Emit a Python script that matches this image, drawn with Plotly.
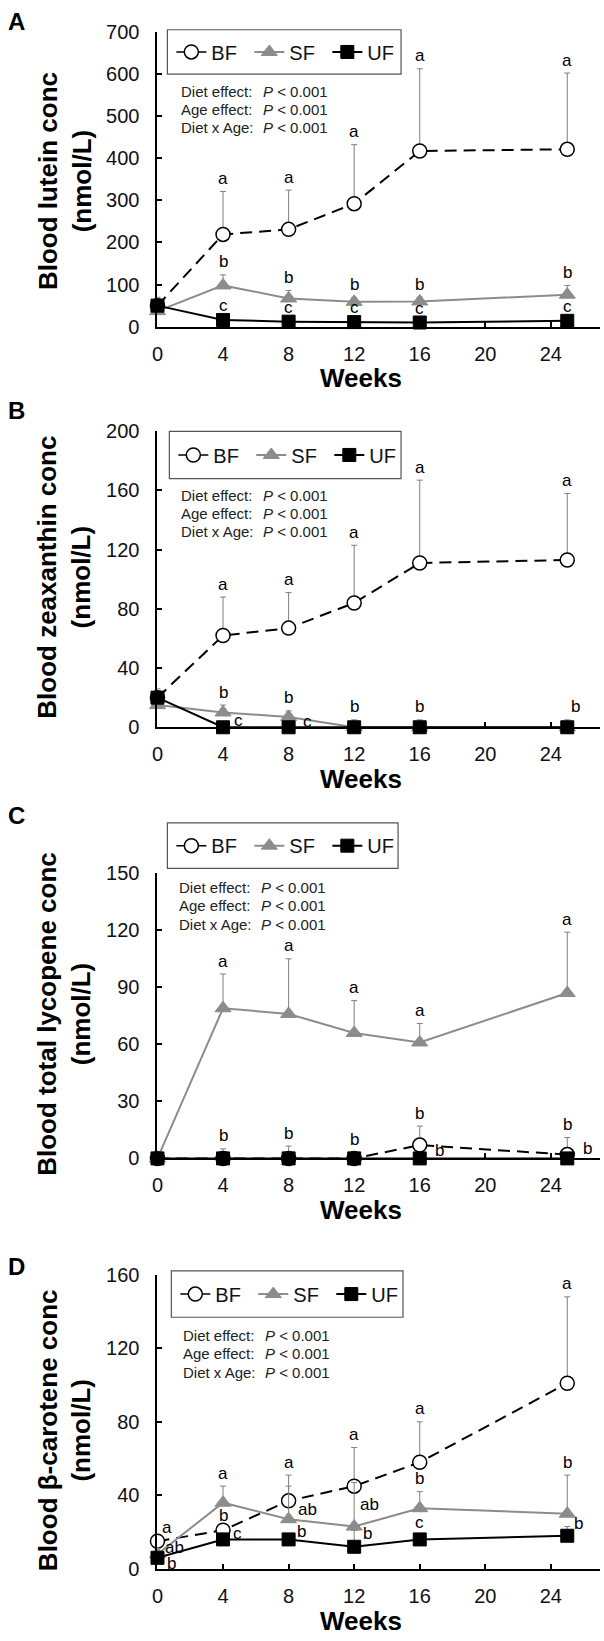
import plotly.graph_objects as go

# ---------------- data ----------------
WEEKS = [0, 4, 8, 12, 16, 25]
SERIES = ["BF", "SF", "UF"]
X_TICKS = [0, 4, 8, 12, 16, 20, 24]

# Panel A: lutein (nmol/L)
LUTEIN_BF = [50, 219, 231, 292, 417, 421]
LUTEIN_BF_SD = [20, 102, 93, 140, 195, 181]
LUTEIN_SF = [37, 98, 67, 59, 60, 76]
LUTEIN_SF_SD = [8, 25, 19, 10, 10, 22]
LUTEIN_UF = [50, 16, 12, 11, 10, 14]
LUTEIN_UF_SD = [5, 4, 3, 3, 3, 4]
LUTEIN_BF_LET = ["", "a", "a", "a", "a", "a"]
LUTEIN_SF_LET = ["", "b", "b", "b", "b", "b"]
LUTEIN_UF_LET = ["", "c", "c", "c", "c", "c"]

# Panel B: zeaxanthin
ZEA_BF = [20, 62, 67, 84, 111, 113]
ZEA_BF_SD = [6, 26, 24, 39, 56, 45]
ZEA_SF = [15, 10, 7, 0, 0, 0]
ZEA_SF_SD = [3, 5, 4, 5, 5, 5]
ZEA_UF = [20, 0, 0, 0, 0, 0]
ZEA_UF_SD = [0, 0, 0, 0, 0, 0]
ZEA_BF_LET = ["", "a", "a", "a", "a", "a"]
ZEA_SF_LET = ["", "b", "b", "b", "b", "b"]
ZEA_UF_LET = ["", "c", "c", "", "", ""]

# Panel C: total lycopene
LYC_BF = [0, 0, 0, 0, 7, 2]
LYC_BF_SD = [0, 5, 6.5, 3, 10, 9]
LYC_SF = [0, 79, 76, 66, 61, 87]
LYC_SF_SD = [0, 18, 29, 17, 10, 32]
LYC_UF = [0, 0, 0, 0, 0, 0]
LYC_UF_SD = [0, 0, 0, 0, 0, 0]
LYC_BF_LET = ["", "b", "b", "b", "b", "b"]
LYC_SF_LET = ["", "a", "a", "a", "a", "a"]
LYC_UF_LET = ["", "", "", "", "b", "b"]

# Panel D: beta-carotene
BCAR_BF = [15, 21, 37, 45, 58, 101]
BCAR_BF_SD = [2, 1, 14, 21, 22, 47]
BCAR_SF = [8, 36, 27, 23, 33, 30]
BCAR_SF_SD = [3, 9, 18, 24, 9, 21]
BCAR_UF = [6, 16, 16, 12, 16, 18]
BCAR_UF_SD = [1, 2, 2, 9, 2, 5]
BCAR_BF_LET = ["a", "b", "a", "a", "a", "a"]
BCAR_SF_LET = ["ab", "a", "ab", "ab", "b", "b"]
BCAR_UF_LET = ["b", "c", "b", "b", "c", "b"]

Y_TITLES = ["Blood lutein conc", "Blood zeaxanthin conc",
            "Blood total lycopene conc", "Blood β-carotene conc"]
PANEL_LETTERS = ["A", "B", "C", "D"]
STAT_LABELS = ["Diet effect:", "Age effect:", "Diet x Age:"]
STAT_VALUES = ["<i>P</i> &lt; 0.001"] * 3

PANEL_DATA = [
    ([LUTEIN_BF, LUTEIN_SF, LUTEIN_UF], [LUTEIN_BF_SD, LUTEIN_SF_SD, LUTEIN_UF_SD],
     [LUTEIN_BF_LET, LUTEIN_SF_LET, LUTEIN_UF_LET]),
    ([ZEA_BF, ZEA_SF, ZEA_UF], [ZEA_BF_SD, ZEA_SF_SD, ZEA_UF_SD],
     [ZEA_BF_LET, ZEA_SF_LET, ZEA_UF_LET]),
    ([LYC_BF, LYC_SF, LYC_UF], [LYC_BF_SD, LYC_SF_SD, LYC_UF_SD],
     [LYC_BF_LET, LYC_SF_LET, LYC_UF_LET]),
    ([BCAR_BF, BCAR_SF, BCAR_UF], [BCAR_BF_SD, BCAR_SF_SD, BCAR_UF_SD],
     [BCAR_BF_LET, BCAR_SF_LET, BCAR_UF_LET]),
]

# ---------------- layout / style ----------------
W, H = 604, 1641
X0, X1 = 153, 600
FONT = "Liberation Sans, Arial, sans-serif"
GREY = "#8c8c8c"
ERRC = "#7f7f7f"

PANELS = [
    dict(top=21, bottom=320, ymax=700, dtick=100, letter_y=11,
         box=(163, 19, 399, 64), ann_x=175, ann_y=[82, 100, 118], title_c=172, weeks_y=372),
    dict(top=426, bottom=726, ymax=200, dtick=40, letter_y=405,
         box=(165, 426, 399, 474), ann_x=175, ann_y=[491, 509, 528], title_c=574, weeks_y=778),
    dict(top=874, bottom=1163, ymax=150, dtick=30, letter_y=815,
         box=(163, 823, 396, 869), ann_x=173, ann_y=[888, 907, 926], title_c=1016, weeks_y=1215),
    dict(top=1281, bottom=1579, ymax=160, dtick=40, letter_y=1273,
         box=(167, 1277, 401, 1324), ann_x=177, ann_y=[1342, 1361, 1380], title_c=1438,
         weeks_y=1632),
]

# letter placement: default = centred above the error-bar top
# overrides: (panel, series, index) -> (mode, dx px, dy px)
LETTER_PLACE = {
    (1, 1, 5): ("top", 8, 13),
    (1, 2, 1): ("val", 15, 7), (1, 2, 2): ("val", 19, 6),
    (2, 2, 4): ("val", 20, 8), (2, 2, 5): ("val", 20, 10),
    (3, 0, 0): ("val", 10, 14), (3, 1, 0): ("val", 17, 7), (3, 2, 0): ("val", 14, -6),
    (3, 2, 1): ("val", 14, 6),
    (3, 1, 2): ("val", 19, 10), (3, 2, 2): ("val", 13, 8),
    (3, 1, 3): ("val", 15, 22), (3, 2, 3): ("val", 13, 13),
    (3, 2, 5): ("val", 11, 12),
}


def fx(p):
    return p / W


def fy(p):
    return 1 - p / H


STYLE = {
    "BF": dict(line=dict(color="black", width=2, dash="12px,7px"),
               marker=dict(symbol="circle", size=14, color="white",
                           line=dict(color="black", width=1.5))),
    "SF": dict(line=dict(color=GREY, width=2),
               marker=dict(symbol="triangle-up", size=14, color=GREY,
                           line=dict(color=GREY, width=1))),
    "UF": dict(line=dict(color="black", width=2),
               marker=dict(symbol="square", size=13, color="black",
                           line=dict(color="black", width=1))),
}

fig = go.Figure()
annotations = []
shapes = []
layout_extra = {}

for i, (p, (vals, sds, lets)) in enumerate(zip(PANELS, PANEL_DATA)):
    n = i + 1
    xa = "x" if n == 1 else f"x{n}"
    ya = "y" if n == 1 else f"y{n}"
    lg = "legend" if n == 1 else f"legend{n}"

    # legend-only BF entry with a solid line (as in the original key)
    fig.add_trace(go.Scatter(
        x=[None], y=[None], name="BF", mode="lines+markers", xaxis=xa, yaxis=ya,
        line=dict(color="black", width=1.5), marker=STYLE["BF"]["marker"],
        legend=lg, showlegend=True, legendrank=1))

    for s, name in enumerate(SERIES):
        st = STYLE[name]
        fig.add_trace(go.Scatter(
            x=WEEKS, y=vals[s], name=name, mode="lines+markers",
            xaxis=xa, yaxis=ya, line=st["line"], marker=st["marker"],
            error_y=dict(type="data", symmetric=False, array=sds[s],
                         arrayminus=[0] * len(sds[s]), color=ERRC,
                         thickness=1, width=3),
            cliponaxis=False, legend=lg, showlegend=(name != "BF"),
            legendrank=s + 1))

        for k, letter in enumerate(lets[s]):
            if not letter:
                continue
            mode, dx, dy = LETTER_PLACE.get((i, s, k), ("top", 0, 13))
            yv = vals[s][k] + (sds[s][k] if mode == "top" else 0)
            annotations.append(dict(
                x=WEEKS[k], y=yv, xref=xa, yref=ya, text=letter, showarrow=False,
                xanchor="center", yanchor="middle", xshift=dx, yshift=dy,
                font=dict(size=17, family=FONT, color="black")))

    axis_common = dict(showline=True, linecolor="black", linewidth=2, ticks="inside",
                       ticklen=5, tickwidth=1.5, tickcolor="black", showgrid=False,
                       zeroline=False, tickfont=dict(size=20, family=FONT, color="#111"))
    layout_extra["xaxis" if n == 1 else f"xaxis{n}"] = dict(
        domain=[fx(X0), fx(X1)], range=[0, 27], tickmode="array", tickvals=X_TICKS,
        anchor=ya, ticklabelstandoff=8, **axis_common)
    layout_extra["yaxis" if n == 1 else f"yaxis{n}"] = dict(
        domain=[fy(p["bottom"]), fy(p["top"])], range=[0, p["ymax"]], dtick=p["dtick"],
        tick0=0, anchor=xa, ticklabelstandoff=12, **axis_common)

    bx0, by0, bx1, by1 = p["box"]
    shapes.append(dict(type="rect", xref="paper", yref="paper",
                       x0=fx(bx0), x1=fx(bx1), y0=fy(by1), y1=fy(by0),
                       line=dict(color="#555555", width=1.2), fillcolor="white",
                       layer="below"))
    layout_extra[lg] = dict(
        x=fx(bx0 + 4), y=fy((by0 + by1) / 2), xanchor="left", yanchor="middle",
        orientation="h", borderwidth=0, bgcolor="rgba(0,0,0,0)",
        font=dict(size=20, family=FONT, color="#111"), itemwidth=30,
        entrywidth=33, entrywidthmode="pixels", traceorder="normal")

    # panel letter
    annotations.append(dict(x=0, y=fy(p["letter_y"]), xref="paper", yref="paper",
                            text=f"<b>{PANEL_LETTERS[i]}</b>", showarrow=False,
                            xanchor="left", yanchor="middle",
                            font=dict(size=24, family=FONT, color="black")))
    # y-axis title
    annotations.append(dict(x=fx(59), y=fy(p["title_c"]), xref="paper", yref="paper",
                            text=f"<b>{Y_TITLES[i]}<br>(nmol/L)</b>", showarrow=False,
                            textangle=-90, xanchor="center", yanchor="middle",
                            font=dict(size=26, family=FONT, color="black")))
    # x-axis title
    annotations.append(dict(x=fx(359), y=fy(p["weeks_y"]), xref="paper", yref="paper",
                            text="<b>Weeks</b>", showarrow=False,
                            xanchor="center", yanchor="middle",
                            font=dict(size=26, family=FONT, color="black")))
    # statistics text
    for j in range(3):
        annotations.append(dict(x=fx(p["ann_x"]), y=fy(p["ann_y"][j]), xref="paper",
                                yref="paper", text=STAT_LABELS[j], showarrow=False,
                                xanchor="left", yanchor="middle",
                                font=dict(size=15, family=FONT, color="#222")))
        annotations.append(dict(x=fx(p["ann_x"] + 83), y=fy(p["ann_y"][j]), xref="paper",
                                yref="paper", text=STAT_VALUES[j], showarrow=False,
                                xanchor="left", yanchor="middle",
                                font=dict(size=15, family=FONT, color="#222")))

fig.update_layout(
    width=W, height=H, margin=dict(l=0, r=0, t=0, b=0),
    paper_bgcolor="white", plot_bgcolor="white",
    font=dict(family=FONT, color="black"),
    annotations=annotations, shapes=shapes, hovermode=False,
    **layout_extra,
)

POST = (
    "document.body.style.margin='0';document.body.style.padding='0';"
    "document.body.style.overflow='hidden';"
    "var g=document.getElementById('{plot_id}');"
    "g.style.position='absolute';g.style.left='0px';g.style.top='0px';"
)

fig.write_html("out.html", config={"displayModeBar": False}, post_script=POST)
